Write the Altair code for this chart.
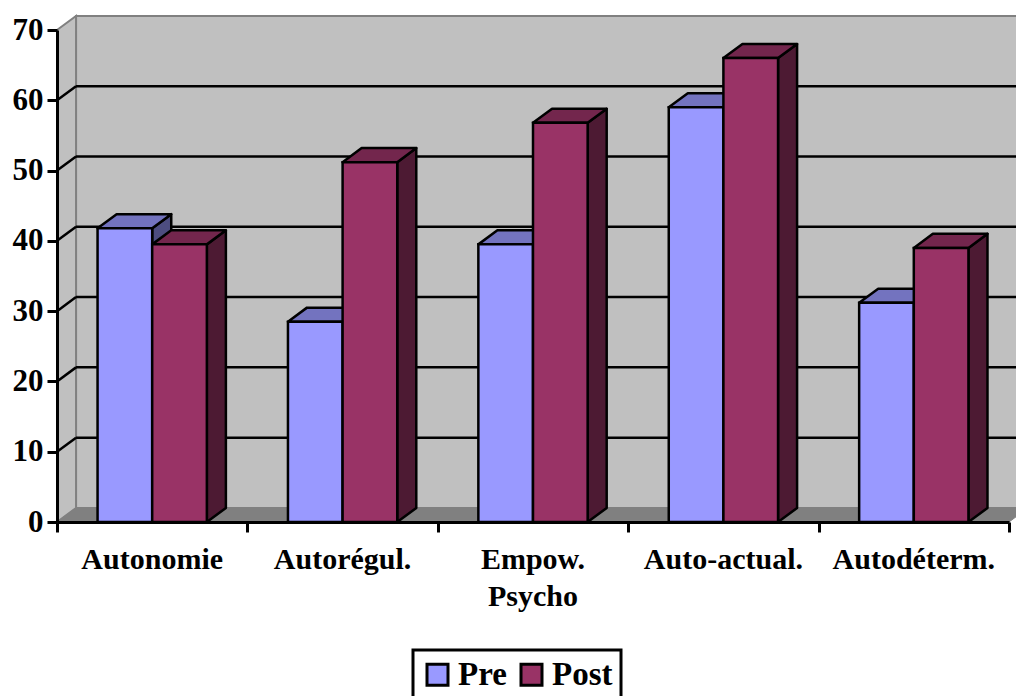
import altair as alt
import pandas as pd

categories = ["Autonomie", "Autorégul.", "Empow.\nPsycho", "Auto-actual.", "Autodéterm."]
pre_values = [41.8, 28.5, 39.5, 59.0, 31.2]
post_values = [39.5, 51.2, 56.8, 66.0, 39.0]
series_names = ["Pre", "Post"]
y_ticks = [0, 10, 20, 30, 40, 50, 60, 70]

# style constants
DX = 0.1   # 3D depth along x (data units)
DY = 2.0   # 3D depth along y (data units)
BAR_START = [0.213, 0.5]
BAR_END = [0.5, 0.787]
FRONT = {"Pre": "#9999FF", "Post": "#993366"}
TOP = {"Pre": "#7373BF", "Post": "#73264D"}
SIDE = {"Pre": "#4D4D80", "Post": "#4D1A33"}
FONT = "Liberation Serif"

front_rows, side_rows, top_rows = [], [], []
for i, cat in enumerate(categories):
    for s, (name, vals) in enumerate(zip(series_names, [pre_values, post_values])):
        v = vals[i]
        x0 = i + BAR_START[s]
        x1 = i + BAR_END[s]
        bid = f"{name}-{i}"
        front_rows.append(dict(series=name, x0=x0, x1=x1, v=v))
        side_rows.append(dict(series=name, bid=bid, x=x1, lo=0.0, hi=v))
        side_rows.append(dict(series=name, bid=bid, x=x1 + DX, lo=DY, hi=v + DY))
        top_rows.append(dict(series=name, bid=bid, y=v, lo=x0, hi=x1))
        top_rows.append(dict(series=name, bid=bid, y=v + DY, lo=x0 + DX, hi=x1 + DX))

front_df = pd.DataFrame(front_rows)
side_df = pd.DataFrame(side_rows)
top_df = pd.DataFrame(top_rows)

n = len(categories)
xs = alt.Scale(domain=[0, n], nice=False, zero=False)
ys = alt.Scale(domain=[0, 70], nice=False, zero=False)

# walls
wall_df = pd.DataFrame([dict(x0=DX, x1=n + DX, y0=DY, y1=70 + DY)])
back_wall = alt.Chart(wall_df).mark_rect(fill="#C0C0C0", stroke="#808080", strokeWidth=2).encode(
    x=alt.X("x0:Q", scale=xs, axis=alt.Axis(values=list(range(n + 1)), labels=False, title=None,
                                             tickSize=10, tickWidth=3, tickColor="black",
                                             domainColor="black", domainWidth=3, grid=False, zindex=1)),
    x2="x1:Q",
    y=alt.Y("y0:Q", scale=ys, axis=alt.Axis(values=y_ticks, title=None, grid=False,
                                             labelFont=FONT, labelFontWeight="bold", labelFontSize=31,
                                             labelColor="black", labelPadding=4,
                                             tickSize=10, tickWidth=3, tickColor="black",
                                             domainColor="black", domainWidth=3, zindex=1)),
    y2="y1:Q",
)

left_df = pd.DataFrame([dict(x=0.0, lo=0.0, hi=70.0), dict(x=DX, lo=DY, hi=70 + DY)])
left_wall = alt.Chart(left_df).mark_area(fill="#C0C0C0", stroke="#808080", strokeWidth=2,
                                          orient="vertical", interpolate="linear").encode(
    x=alt.X("x:Q", scale=xs), y=alt.Y("hi:Q", scale=ys), y2="lo:Q")

floor_df = pd.DataFrame([dict(y=0.0, lo=0.0, hi=float(n)), dict(y=DY, lo=DX, hi=n + DX)])
floor = alt.Chart(floor_df).mark_area(fill="#808080", stroke="#808080", strokeWidth=1,
                                       orient="horizontal", interpolate="linear").encode(
    y=alt.Y("y:Q", scale=ys), x=alt.X("lo:Q", scale=xs), x2="hi:Q")

grid_vals = [10, 20, 30, 40, 50, 60]
grid_df = pd.DataFrame([dict(v=g, vb=g + DY, xa=DX, xb=n + DX, xl=0.0) for g in grid_vals])
back_grid = alt.Chart(grid_df).mark_rule(color="black", strokeWidth=2.5).encode(
    x=alt.X("xa:Q", scale=xs), x2="xb:Q", y=alt.Y("vb:Q", scale=ys))
side_grid = alt.Chart(grid_df).mark_rule(color="black", strokeWidth=2.5).encode(
    x=alt.X("xl:Q", scale=xs), x2="xa:Q", y=alt.Y("v:Q", scale=ys), y2="vb:Q")

layers = [back_wall, left_wall, floor, back_grid, side_grid]

for name in series_names:
    side = alt.Chart(side_df[side_df.series == name]).mark_area(
        fill=SIDE[name], stroke="black", strokeWidth=2.5, strokeJoin="round",
        orient="vertical", interpolate="linear").encode(
        x=alt.X("x:Q", scale=xs), y=alt.Y("hi:Q", scale=ys), y2="lo:Q", detail="bid:N")
    top = alt.Chart(top_df[top_df.series == name]).mark_area(
        fill=TOP[name], stroke="black", strokeWidth=2.5, strokeJoin="round",
        orient="horizontal", interpolate="linear").encode(
        y=alt.Y("y:Q", scale=ys), x=alt.X("lo:Q", scale=xs), x2="hi:Q", detail="bid:N")
    front = alt.Chart(front_df[front_df.series == name]).mark_rect(
        stroke="black", strokeWidth=2.5).encode(
        x=alt.X("x0:Q", scale=xs), x2="x1:Q",
        y=alt.Y("v:Q", scale=ys), y2=alt.datum(0),
        color=alt.Color("series:N",
                        scale=alt.Scale(domain=series_names,
                                        range=[FRONT[s] for s in series_names]),
                        legend=alt.Legend(title=None, orient="none", legendX=356, legendY=620,
                                          direction="horizontal", symbolType="square",
                                          symbolSize=441, symbolStrokeColor="black",
                                          symbolStrokeWidth=3, labelFont=FONT,
                                          labelFontWeight="bold", labelFontSize=33,
                                          labelColor="black", labelOffset=4,
                                          columnPadding=8, padding=8,
                                          strokeColor="black")))
    layers += [side, top, front]

label_df = pd.DataFrame([dict(cx=i + 0.5, y=0.0, label=c) for i, c in enumerate(categories)])
labels = alt.Chart(label_df).mark_text(
    font=FONT, fontWeight="bold", fontSize=30, color="black", align="center",
    baseline="alphabetic", dy=47, lineBreak="\n", lineHeight=37).encode(
    x=alt.X("cx:Q", scale=xs), y=alt.Y("y:Q", scale=ys), text="label:N")
layers.append(labels)

chart = alt.layer(*layers).properties(
    width=952, height=492,
    autosize=alt.AutoSizeParams(type="none"),
    padding={"left": 57, "top": 30, "right": 7, "bottom": 174},
    background="white",
).configure_view(stroke=None).configure_legend(strokeWidth=3)

chart.save("out.html", embed_options={"renderer": "svg", "actions": False})
